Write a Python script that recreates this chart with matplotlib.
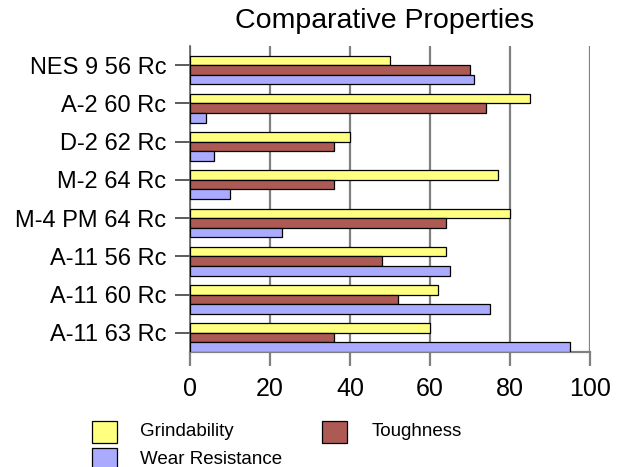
import matplotlib
matplotlib.use("Agg")
import matplotlib.pyplot as plt
from matplotlib.patches import Rectangle
import numpy as np

plt.rcParams['font.family'] = ['Liberation Sans', 'DejaVu Sans']

categories = ["NES 9 56 Rc", "A-2 60 Rc", "D-2 62 Rc", "M-2 64 Rc",
              "M-4 PM 64 Rc", "A-11 56 Rc", "A-11 60 Rc", "A-11 63 Rc"]
series_names = ["Grindability", "Toughness", "Wear Resistance"]
grindability = [50, 85, 40, 77, 80, 64, 62, 60]
toughness = [70, 74, 36, 36, 64, 48, 52, 36]
wear_resistance = [71, 4, 6, 10, 23, 65, 75, 95]
x_ticks = [0, 20, 40, 60, 80, 100]

colors = ["#FFFF80", "#AD5A55", "#AAAAFF"]
series = [grindability, toughness, wear_resistance]

fig = plt.figure(figsize=(6.17, 4.67), dpi=100)
ax = fig.add_axes([190 / 617, 115 / 467, 400 / 617, 306 / 467])

y = np.arange(len(categories))
h = 0.25
for i, (vals, col) in enumerate(zip(series, colors)):
    # each group starts a quarter slot above the category tick
    ax.barh(y - h + i * h, vals, height=h, align='edge', color=col,
            edgecolor='black', linewidth=0.9, zorder=3)

ax.set_ylim(len(categories) - 0.5, -0.5)
ax.set_xlim(0, 100)
ax.set_yticks(y)
ax.set_yticklabels(categories, fontsize=17)
ax.set_xticks(x_ticks)
ax.set_xticklabels([str(t) for t in x_ticks], fontsize=18)

ax.xaxis.grid(True, color='#808080', linewidth=1.6, zorder=0)
ax.set_axisbelow(True)
for s in ['top', 'right']:
    ax.spines[s].set_visible(False)
ax.spines['left'].set_color('#606060')
ax.spines['bottom'].set_color('#808080')
ax.spines['left'].set_linewidth(1.2)
ax.spines['bottom'].set_linewidth(1.6)
ax.tick_params(axis='y', length=11, width=1.2, color='#404040', pad=6)
ax.tick_params(axis='x', length=10, width=1.6, color='#808080', pad=8)

fig.text(0.624, 0.955, "Comparative Properties", ha='center', va='center', fontsize=20.5)

# legend swatches and labels
legend_items = [(92, 421, 140), (322, 421, 372), (92, 448, 140)]
for (px, py, tx), name, col in zip(legend_items, series_names, colors):
    fig.add_artist(Rectangle((px / 617, 1 - (py + 22) / 467), 25 / 617, 22 / 467,
                             facecolor=col, edgecolor='black', linewidth=0.9,
                             transform=fig.transFigure))
    fig.text(tx / 617, 1 - (py + 11) / 467, name, ha='left', va='center', fontsize=13.5)

fig.savefig("out.png", dpi=100)
